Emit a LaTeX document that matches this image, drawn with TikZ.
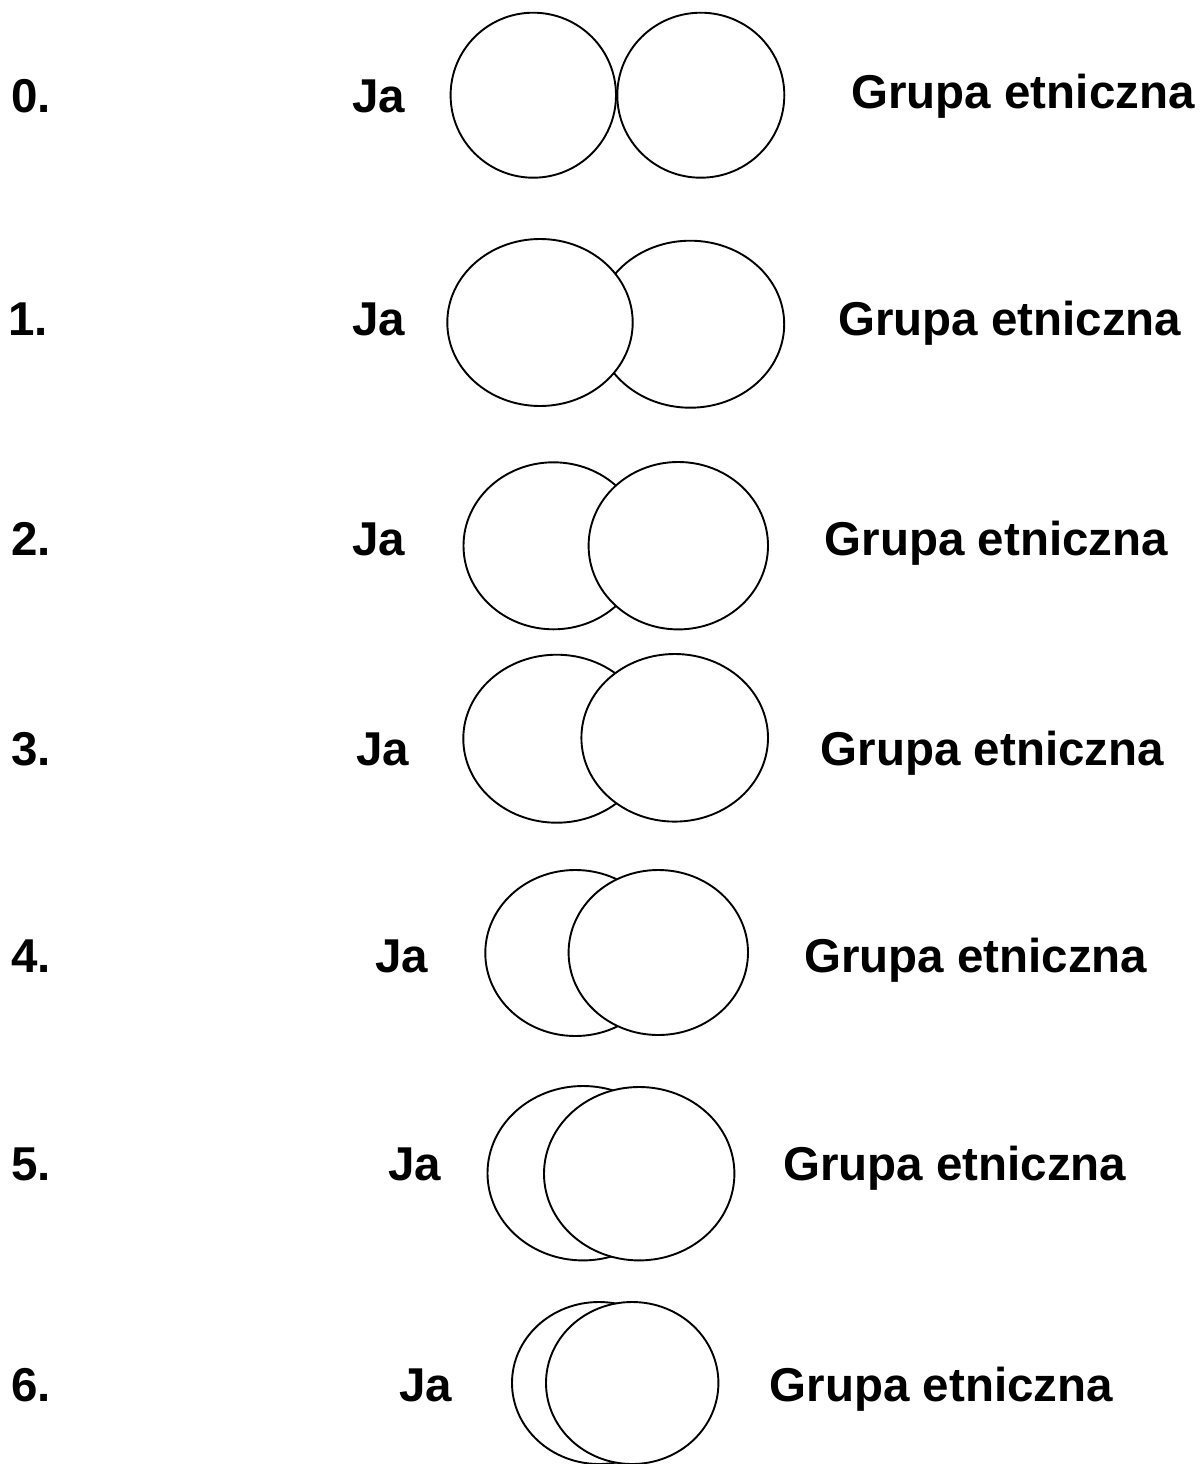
\documentclass[tikz,border=0pt]{standalone}
\usepackage{fontspec}
\setmainfont{Liberation Sans}
\usetikzlibrary{shapes.geometric}
\begin{document}
\begin{tikzpicture}[x=1pt,y=-1pt,
  circ/.style={ellipse, draw=black, line width=1.9pt, fill=white, inner sep=0pt, outer sep=0pt},
  lbl/.style={anchor=base west, inner sep=0pt, font=\fontsize{47.5}{57}\selectfont\bfseries}]
\useasboundingbox[fill=white] (0,0) rectangle (1202,1464);
% row 0
\node[circ, minimum width=165.4pt, minimum height=165pt] (l0) at (533.3,95.2) {};
\node[circ, minimum width=167pt, minimum height=165pt] (r0) at (700.8,95.2) {};
\node[lbl] (n0) at (11,112.3) {0.};
\node[lbl] (ja0) at (351.8,112.3) {Ja};
\node[lbl] (g0) at (851.3,108) {Grupa etniczna};
% row 1
\node[circ, minimum width=188pt, minimum height=167pt] (r1) at (690.2,324.2) {};
\node[circ, minimum width=185.4pt, minimum height=167pt] (l1) at (540,322.5) {};
\node[lbl] (n1) at (8,335) {1.};
\node[lbl] (ja1) at (351.8,335) {Ja};
\node[lbl] (g1) at (838,335) {Grupa etniczna};
% row 2
\node[circ, minimum width=180pt, minimum height=167pt] (l2) at (553.5,545.8) {};
\node[circ, minimum width=179.4pt, minimum height=167.4pt] (r2) at (678.3,545.7) {};
\node[lbl] (n2) at (11,555.5) {2.};
\node[lbl] (ja2) at (351.8,555.5) {Ja};
\node[lbl] (g2) at (824.7,555.5) {Grupa etniczna};
% row 3
\node[circ, minimum width=186.8pt, minimum height=168pt] (l3) at (556.7,738.7) {};
\node[circ, minimum width=186.6pt, minimum height=167.6pt] (r3) at (674.7,737.8) {};
\node[lbl] (n3) at (11,765.5) {3.};
\node[lbl] (ja3) at (355.8,765.5) {Ja};
\node[lbl] (g3) at (820.7,765.5) {Grupa etniczna};
% row 4
\node[circ, minimum width=180pt, minimum height=166pt] (l4) at (575.3,953) {};
\node[circ, minimum width=179.4pt, minimum height=165pt] (r4) at (658.3,952.5) {};
\node[lbl] (n4) at (11,972.5) {4.};
\node[lbl] (ja4) at (375.2,972.5) {Ja};
\node[lbl] (g4) at (804,972.5) {Grupa etniczna};
% row 5
\node[circ, minimum width=191pt, minimum height=174.4pt] (l5) at (583,1173.2) {};
\node[circ, minimum width=190.4pt, minimum height=173.4pt] (r5) at (639.2,1173.7) {};
\node[lbl] (n5) at (11,1180.7) {5.};
\node[lbl] (ja5) at (387.8,1180.7) {Ja};
\node[lbl] (g5) at (783,1180.7) {Grupa etniczna};
% row 6
\node[circ, minimum width=174pt, minimum height=162pt] (l6) at (599,1383) {};
\node[circ, minimum width=172.4pt, minimum height=162pt] (r6) at (632.2,1383) {};
\node[lbl] (n6) at (11,1401.7) {6.};
\node[lbl] (ja6) at (399.2,1401.7) {Ja};
\node[lbl] (g6) at (769.7,1401.7) {Grupa etniczna};
\end{tikzpicture}
\end{document}
